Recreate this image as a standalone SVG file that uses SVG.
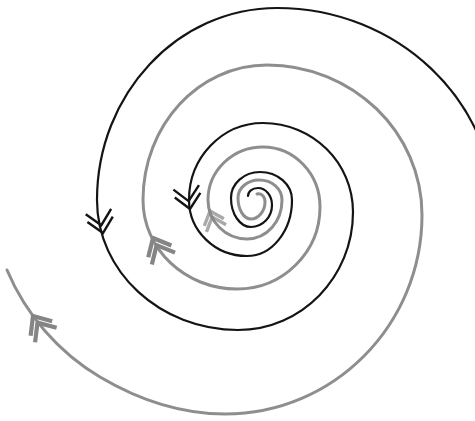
<svg xmlns="http://www.w3.org/2000/svg" xmlns:xlink="http://www.w3.org/1999/xlink" width="475" height="421" viewBox="0 0 475 421">
<style>
.blk{fill:none;stroke:#141414;stroke-width:2.2;stroke-linecap:round}
.gry{fill:none;stroke:#8e8e8e;stroke-width:3;stroke-linecap:round}
</style>
<defs>
<path id="chevK" d="M-14,-13 L0,0 L-14,13 M-22,-13 L-8,0 L-22,13" fill="none" stroke="#141414" stroke-width="2.4"/>
<path id="chevG" d="M-15,-13 L0,0 L-15,13 M-23,-13 L-8,0 L-23,13" fill="none" stroke="#858585" stroke-width="4.2" stroke-linejoin="round"/>
</defs>
<rect width="475" height="421" fill="#ffffff"/>
<g id="gray-spiral">
<path class="gry" d="M7,270 C25.7,314.4 58.6,352.5 100,377 C138.2,399.6 181,414 225,414 C333.8,414 422,324.9 422,215 C422,132.2 352.6,65 267,65 C198.5,65 143,125.4 143,200 C143,249.2 185.1,289 237,289 C282.8,289 320,252.3 320,207 C320,173.9 294.5,147 263,147 C232.6,147 208,170.7 208,200 C208,221.5 225.5,239 247,239 C266.9,239 282,221.5 282,200 C282,189 272.3,180 259,180 C247.4,180 238,188 238,198 C238,209.6 243.8,219 251,219 C258.2,219 265,211.4 265,202 C265,196 261,193 257,194"/>
<use xlink:href="#chevG" transform="translate(33,316) rotate(236)"/>
<use xlink:href="#chevG" transform="translate(153,238) rotate(243)"/>
<use xlink:href="#chevG" transform="translate(210,211) rotate(250) scale(0.8)" opacity="0.7"/>
</g>
<g id="black-spiral">
<path class="blk" d="M495,215 C495,100.7 397.4,8 277,8 C177.6,8 97,93.9 97,200 C97,271.8 160.1,330 238,330 C301.5,330 353,277.2 353,212 C353,162.8 312.7,123 263,123 C222.1,123 189,157.5 189,200 C189,230.9 215,256 247,256 C271.9,256 292,230.9 292,200 C292,184.5 277.7,172 260,172 C244,172 231,183.6 231,198 C231,214 240,227 251,227 C262.6,227 272,217.2 272,205 C272,195.6 265.7,188 258,188 C252,188 248,191.5 248,196"/>
<use xlink:href="#chevK" transform="translate(103,233) rotate(78)"/>
<use xlink:href="#chevK" transform="translate(190,209) rotate(80)"/>
</g>
</svg>
